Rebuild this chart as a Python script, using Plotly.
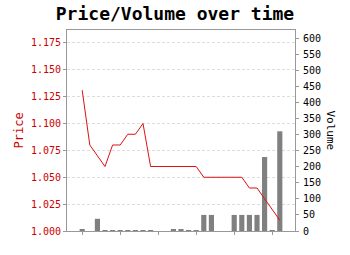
import plotly.graph_objects as go

# data (index positions along time)
idx = list(range(27))
price = [1.131, 1.080, 1.070, 1.060, 1.080, 1.080, 1.090, 1.090, 1.100, 1.060,
         1.060, 1.060, 1.060, 1.060, 1.060, 1.060, 1.050, 1.050, 1.050, 1.050,
         1.050, 1.050, 1.040, 1.040, 1.030, 1.020, 1.010]
volume = [4, 0, 38, 2, 1, 1, 1, 1, 1, 2,
          0, 0, 5, 5, 2, 2, 50, 50, 0, 0,
          50, 50, 50, 50, 230, 2, 310]
xticks = [0, 5, 10, 15, 20, 25]

RED = "#cc0000"
MONO = "DejaVu Sans Mono"
AX = "#999999"

fig = go.Figure()
fig.add_trace(go.Bar(x=idx, y=volume, marker=dict(color="#808080", line=dict(width=0)),
                     width=0.68, yaxis="y", showlegend=False))
fig.add_trace(go.Scatter(x=idx, y=price, mode="lines", line=dict(color="#dd1111", width=1),
                         yaxis="y2", showlegend=False))

fig.update_layout(
    width=350, height=255,
    margin=dict(l=67, r=55, t=30, b=24),
    paper_bgcolor="white", plot_bgcolor="white",
    font=dict(family=MONO, size=10, color="black"),
    title=dict(text="<b>Price/Volume over time</b>", x=0.5, xanchor="center",
               y=1 - 14 / 255, yanchor="middle", yref="container",
               font=dict(family=MONO, size=18, color="black")),
    xaxis=dict(range=[-2, 28], tickvals=xticks, ticktext=[""] * len(xticks),
               ticks="outside", ticklen=3, tickcolor=AX, showgrid=False,
               showline=True, linecolor=AX, linewidth=1, mirror=True, zeroline=False),
    yaxis=dict(side="right", range=[0, 625], dtick=50, tick0=0,
               ticks="outside", ticklen=3, tickcolor=AX, showgrid=False,
               showline=True, linecolor=AX, linewidth=1, zeroline=False,
               ticklabelstandoff=2,
               tickfont=dict(family=MONO, size=10, color="black")),
    yaxis2=dict(side="left", overlaying="y", range=[1.0, 1.187], dtick=0.025, tick0=1.0,
                tickformat=".3f", ticks="outside", ticklen=3, tickcolor=AX,
                showgrid=True, gridcolor="#dddddd", griddash="3px,2px",
                showline=True, linecolor=AX, linewidth=1, zeroline=False,
                tickfont=dict(family=MONO, size=10, color=RED)),
    annotations=[
        dict(text="Price", xref="paper", yref="paper", x=(18 - 67) / 228, y=0.5,
             textangle=-90, showarrow=False, xanchor="center", yanchor="middle",
             font=dict(family=MONO, size=12, color=RED)),
        dict(text="Volume", xref="paper", yref="paper", x=(330 - 67) / 228, y=0.5,
             textangle=90, showarrow=False, xanchor="center", yanchor="middle",
             font=dict(family=MONO, size=11, color="black")),
    ],
)

fig.write_html("out.html")
